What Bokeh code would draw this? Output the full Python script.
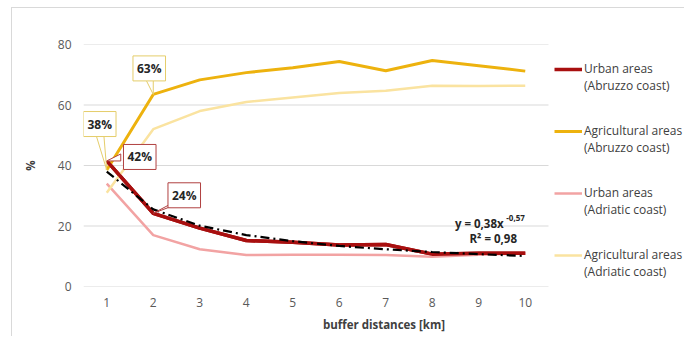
from bokeh.plotting import figure
from bokeh.models import Range1d, FixedTicker, Legend, LegendItem, Label
from bokeh.embed import file_html
from bokeh.resources import INLINE

# ---- data ----
distances = [1, 2, 3, 4, 5, 6, 7, 8, 9, 10]
urban_abruzzo = [41.5, 24.2, 19.3, 15.2, 14.6, 13.7, 13.9, 10.7, 11.0, 11.0]
agri_abruzzo = [38.5, 63.5, 68.3, 70.7, 72.3, 74.4, 71.3, 74.7, 73.0, 71.2]
urban_adriatic = [34.0, 17.0, 12.3, 10.4, 10.5, 10.5, 10.4, 9.8, 10.5, 11.0]
agri_adriatic = [31.0, 52.0, 58.0, 61.0, 62.5, 64.0, 64.7, 66.4, 66.3, 66.4]
trend_fit = [38.0, 25.5, 20.1, 17.0, 15.0, 13.4, 12.3, 11.4, 10.7, 10.1]
y_ticks = [0, 20, 40, 60, 80]
series_first = ["Urban areas", "Agricultural areas", "Urban areas", "Agricultural areas"]
series_second = ["(Abruzzo coast)", "(Abruzzo coast)", "(Adriatic coast)", "(Adriatic coast)"]
callouts = [("38%", 0, agri_abruzzo), ("63%", 1, agri_abruzzo),
            ("42%", 0, urban_abruzzo), ("24%", 1, urban_abruzzo)]
trend_eq = "y = 0,38x"
trend_exp = "-0,57"
trend_r2 = "R² = 0,98"

FONT = "Open Sans"
C_URB_AB = "#A80F0F"
C_AGR_AB = "#EDB20E"
C_URB_AD = "#F2A3A3"
C_AGR_AD = "#FAE3A0"
GRID = "#d9d9d9"

PX_X = 46.5          # pixels per km
FRAME_W = 601
FRAME_H = 242
x_lo = distances[0] - 0.5
x_hi = distances[-1] + 0.5

p = figure(frame_width=FRAME_W, frame_height=FRAME_H, output_backend="svg",
           toolbar_location=None,
           x_range=Range1d(x_lo, x_lo + FRAME_W / PX_X), y_range=Range1d(0, 80),
           min_border_left=71, min_border_right=0, min_border_top=36, min_border_bottom=50,
           styles={"margin-left": "11px", "margin-top": "7px",
                   "border-left": "1px solid #d9d9d9", "border-top": "1px solid #d9d9d9"})
p.outline_line_color = None
p.background_fill_color = "white"

# axes
p.xaxis.ticker = FixedTicker(ticks=distances)
p.yaxis.ticker = FixedTicker(ticks=y_ticks)
for ax in (p.xaxis, p.yaxis):
    ax.major_tick_line_color = None
    ax.minor_tick_line_color = None
    ax.axis_line_color = None
    ax.major_label_text_font = FONT
    ax.major_label_text_font_size = "12px"
    ax.major_label_text_color = "#595959"
    ax.axis_label_text_font = FONT
    ax.axis_label_text_font_size = "11.5px"
    ax.axis_label_text_font_style = "bold"
    ax.axis_label_text_color = "#404040"
p.xaxis.major_label_standoff = 5
p.yaxis.major_label_standoff = 6
p.xaxis.axis_label = "buffer distances [km]"
p.xaxis.axis_label_standoff = 7
p.yaxis.axis_label = "%"
p.yaxis.axis_label_standoff = 17
p.xgrid.grid_line_color = None
p.ygrid.grid_line_color = None

# horizontal gridlines limited to the data area
p.segment(x0=[x_lo] * len(y_ticks), y0=y_ticks, x1=[x_hi] * len(y_ticks), y1=y_ticks,
          line_color=GRID, line_width=1)

r1 = p.line(distances, urban_abruzzo, line_color=C_URB_AB, line_width=3.5)
r2 = p.line(distances, agri_abruzzo, line_color=C_AGR_AB, line_width=3)
r3 = p.line(distances, urban_adriatic, line_color=C_URB_AD, line_width=2.5)
r4 = p.line(distances, agri_adriatic, line_color=C_AGR_AD, line_width=2.5)
p.line(distances, urban_abruzzo, line_color=C_URB_AB, line_width=3.5)
p.line(distances, trend_fit, line_color="black", line_width=2.2, line_dash="9 4 2 4")
blank = p.line(distances, trend_fit, line_alpha=0)

# callouts
PX_Y = FRAME_H / 80.0
offsets = {"38%": (-7, 46, "#E5CD6A"), "63%": (-4, 26, "#E5CD6A"),
           "42%": (33, 4, "#B04040"), "24%": (31, 18, "#B04040")}
for txt, idx, arr in callouts:
    x0 = distances[idx]
    y0 = arr[idx]
    dx, dy, col = offsets[txt]
    if txt in ("38%", "63%"):
        bx = [x0 + (dx - 4) / PX_X, x0 + (dx + 4) / PX_X]
        by = [y0 + (dy - 10) / PX_Y, y0 + (dy - 10) / PX_Y]
    elif txt == "42%":
        bx = [x0 + (dx - 19) / PX_X, x0 + (dx - 19) / PX_X]
        by = [y0 + (dy + 3) / PX_Y, y0 + (dy - 4) / PX_Y]
    else:
        bx = [x0 + (dx - 16) / PX_X, x0 + (dx - 10) / PX_X]
        by = [y0 + (dy - 10) / PX_Y, y0 + (dy - 10) / PX_Y]
    p.patch([x0, bx[0], bx[1]], [y0, by[0], by[1]], fill_color="white",
            line_color=col, line_width=1)
    p.add_layout(Label(x=x0, y=y0, x_offset=dx, y_offset=dy, text=txt,
                       text_align="center", text_baseline="middle",
                       text_font=FONT, text_font_size="12px", text_font_style="bold",
                       text_color="#262626", background_fill_color="white",
                       border_line_color=col, border_line_width=1, padding=4))

# trend equation
lab_kw = dict(text_baseline="middle", text_font=FONT, text_font_style="bold", text_color="#262626")
p.add_layout(Label(x=distances[-1], y=trend_fit[-1], x_offset=-46, y_offset=32, text=trend_eq,
                   text_align="center", text_font_size="11.5px", **lab_kw))
p.add_layout(Label(x=distances[-1], y=trend_fit[-1], x_offset=-19, y_offset=38, text=trend_exp,
                   text_align="left", text_font_size="8px", **lab_kw))
p.add_layout(Label(x=distances[-1], y=trend_fit[-1], x_offset=-32, y_offset=17, text=trend_r2,
                   text_align="center", text_font_size="11.5px", **lab_kw))

items = []
for i, r in enumerate([r1, r2, r3, r4]):
    items.append(LegendItem(label=series_first[i], renderers=[r]))
    items.append(LegendItem(label=series_second[i], renderers=[blank]))
    if i < 3:
        items.append(LegendItem(label=" ", renderers=[blank]))
        items.append(LegendItem(label="  ", renderers=[blank]))
legend = Legend(items=items, location=(471, 6), border_line_color=None,
                background_fill_alpha=0, label_text_font=FONT, label_text_font_size="12px",
                label_text_line_height=0.8,
                label_text_color="#404040", glyph_width=28, glyph_height=14, label_height=14,
                label_standoff=2, spacing=0, padding=0, margin=0)
p.add_layout(legend)

open("out.html", "w").write(file_html(p, INLINE))
